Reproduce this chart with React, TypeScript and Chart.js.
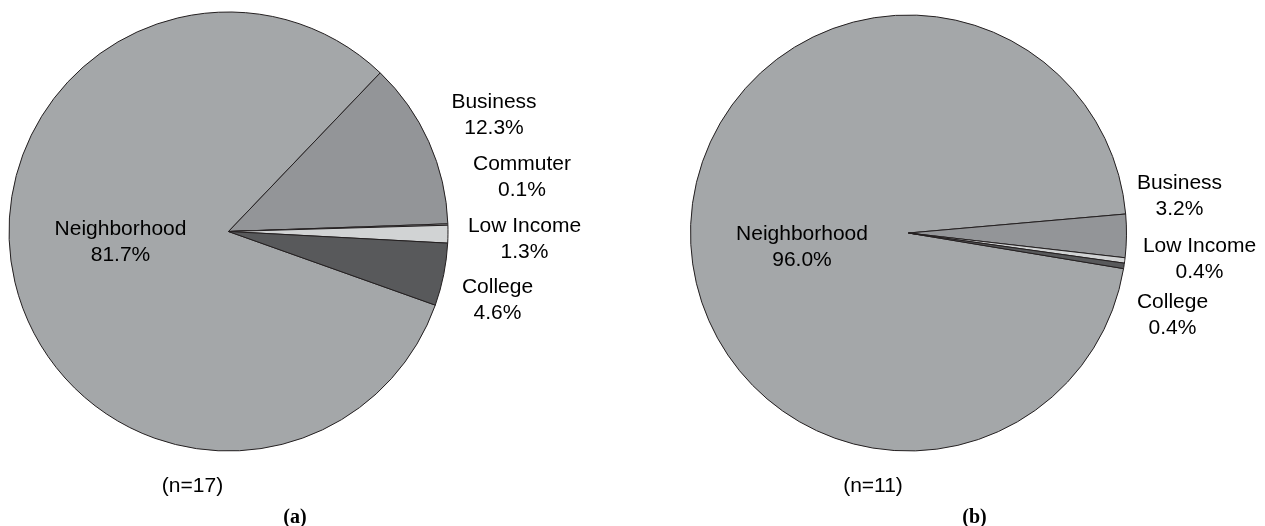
import React, { useEffect, useRef } from "react";
import { Chart, registerables } from "chart.js";

Chart.register(...registerables);

// ---- data ----
const categoriesA = ["Neighborhood", "Business", "Commuter", "Low Income", "College"];
const valuesA = [81.7, 12.3, 0.1, 1.3, 4.6];
const colorsA = ["#a4a7a9", "#939598", "#bcbec0", "#d1d3d4", "#58595b"];
const sampleA = "(n=17)";
const captionA = "(a)";

const categoriesB = ["Neighborhood", "Business", "Low Income", "College"];
const valuesB = [96.0, 3.2, 0.4, 0.4];
const colorsB = ["#a4a7a9", "#939598", "#d1d3d4", "#58595b"];
const sampleB = "(n=11)";
const captionB = "(b)";

// ---- layout (label anchors relative to pie centre: centre-x, first baseline) ----
const labelPosA = [
  [-108, 3],
  [265.5, -124],
  [293.5, -62],
  [296, 0],
  [269, 61],
];
const labelPosB = [
  [-106.5, 7],
  [271, -44],
  [291, 19],
  [264, 75],
];

const FONT = '21px "Liberation Sans", Arial, sans-serif';
const CAPTION_FONT = 'bold 20px "Liberation Serif", "Times New Roman", serif';

type PieSpec = {
  categories: string[];
  values: number[];
  colors: string[];
  labelPos: number[][];
  sample: string;
  caption: string;
  samplePos: number[];
  captionPos: number[];
  rotation: number;
  radius: number;
  padding: { left: number; right: number; top: number; bottom: number };
  width: number;
  left: number;
};

const labelPlugin = {
  id: "pieLabels",
  afterDraw(chart: any) {
    const spec: PieSpec = chart.options.plugins.pieLabels.spec;
    const arc = chart.getDatasetMeta(0).data[0];
    const cx = arc.x;
    const cy = arc.y;
    const ctx = chart.ctx;
    ctx.save();
    ctx.fillStyle = "#000";
    ctx.textAlign = "center";
    ctx.textBaseline = "alphabetic";
    ctx.font = FONT;
    spec.categories.forEach((c, i) => {
      const [dx, dy] = spec.labelPos[i];
      ctx.fillText(c, cx + dx, cy + dy);
      ctx.fillText(spec.values[i].toFixed(1) + "%", cx + dx, cy + dy + 26);
    });
    ctx.fillText(spec.sample, spec.samplePos[0], spec.samplePos[1]);
    ctx.font = CAPTION_FONT;
    ctx.fillText(spec.caption, spec.captionPos[0], spec.captionPos[1]);
    ctx.restore();
  },
};

function Pie({ spec }: { spec: PieSpec }) {
  const ref = useRef<HTMLCanvasElement | null>(null);
  useEffect(() => {
    if (!ref.current) return;
    const chart = new Chart(ref.current, {
      type: "pie",
      data: {
        labels: spec.categories,
        datasets: [
          {
            data: spec.values,
            backgroundColor: spec.colors,
            borderColor: "#231f20",
            borderWidth: 1,
            hoverOffset: 0,
            offset: 0,
          },
        ],
      },
      options: {
        animation: false,
        responsive: false,
        devicePixelRatio: 1,
        rotation: spec.rotation,
        radius: spec.radius,
        layout: { padding: spec.padding },
        events: [],
        plugins: {
          legend: { display: false },
          tooltip: { enabled: false },
          // @ts-ignore
          pieLabels: { spec },
        },
      } as any,
      plugins: [labelPlugin],
    });
    return () => chart.destroy();
  }, [spec]);
  return (
    <canvas
      ref={ref}
      width={spec.width}
      height={526}
      style={{
        position: "absolute",
        left: spec.left,
        top: 0,
        width: spec.width,
        height: 526,
      }}
    />
  );
}

const specA: PieSpec = {
  categories: categoriesA,
  values: valuesA,
  colors: colorsA,
  labelPos: labelPosA,
  sample: sampleA,
  caption: captionA,
  samplePos: [192.5, 492],
  captionPos: [295, 523],
  rotation: 109.6,
  radius: 219.5,
  padding: { left: 0, right: 632 - 457, top: 0, bottom: 526 - 463 },
  width: 632,
  left: 0,
};

const specB: PieSpec = {
  categories: categoriesB,
  values: valuesB,
  colors: colorsB,
  labelPos: labelPosB,
  sample: sampleB,
  caption: captionB,
  samplePos: [241, 492],
  captionPos: [342.5, 523],
  rotation: 99.4,
  radius: 218,
  padding: { left: 0, right: 633 - 553, top: 0, bottom: 526 - 466 },
  width: 633,
  left: 632,
};

export default function App() {
  return (
    <div
      style={{
        position: "absolute",
        left: 0,
        top: 0,
        width: 1265,
        height: 526,
        background: "#fff",
      }}
    >
      <Pie spec={specA} />
      <Pie spec={specB} />
    </div>
  );
}
